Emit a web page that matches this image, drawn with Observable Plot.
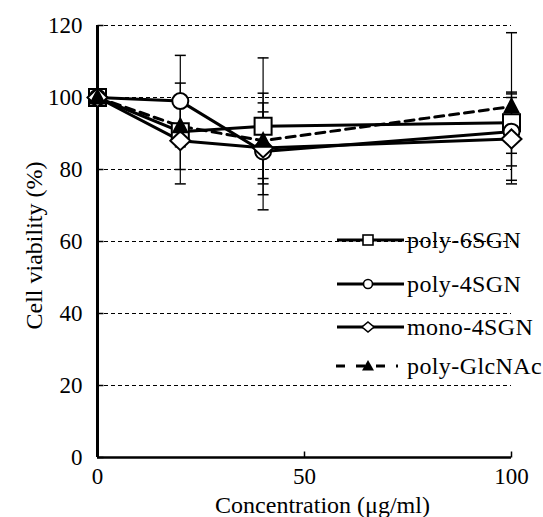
<!DOCTYPE html>
<html><head><meta charset="utf-8">
<script src="https://cdn.jsdelivr.net/npm/d3@7"></script>
<script src="https://cdn.jsdelivr.net/npm/@observablehq/plot@0.6"></script>
<style>
body{margin:0;background:#fff;}
#wrap{position:relative;width:543px;height:517px;}
#wrap svg, #wrap svg text{font-family:"Liberation Serif","Times New Roman",serif !important;}
#legend{position:absolute;left:0;top:0;pointer-events:none;}
</style></head><body>
<div id="wrap"></div>
<script>
// ---- data ----
const concentrations = [0, 20, 40, 100];
const seriesNames = ["poly-6SGN", "poly-4SGN", "mono-4SGN", "poly-GlcNAc"];
const poly6SGN = [100, 90.5, 92, 93];
const poly6SGN_sd = [0, 2, 19, 8.5];
const poly4SGN = [100, 99, 85, 90.5];
const poly4SGN_sd = [0, 12.7, 16.2, 9.5];
const mono4SGN = [100, 88, 86, 88.5];
const mono4SGN_sd = [0, 12, 10, 12.5];
const polyGlcNAc = [100, 92, 88, 97.5];
const polyGlcNAc_sd = [0, 12, 10.5, 20.5];
const yTicks = [0, 20, 40, 60, 80, 100, 120];
const xTicks = [0, 50, 100];
const xLabel = "Concentration (μg/ml)";
const yLabel = "Cell viability (%)";

const values = [poly6SGN, poly4SGN, mono4SGN, polyGlcNAc];
const sds = [poly6SGN_sd, poly4SGN_sd, mono4SGN_sd, polyGlcNAc_sd];
const rows = [];
seriesNames.forEach((name, i) => concentrations.forEach((c, j) =>
  rows.push({series: name, x: c, y: values[i][j], sd: sds[i][j]})));
const errRows = rows.filter(d => d.sd > 0);

// ---- symbols ----
const sym = {
  square: {draw(p){ p.rect(-8.5, -8.5, 17, 17); }},
  circle: {draw(p){ p.moveTo(8, 0); p.arc(0, 0, 8, 0, 2 * Math.PI); }},
  diamond: {draw(p){ p.moveTo(0, -9.5); p.lineTo(10, 0); p.lineTo(0, 9.5); p.lineTo(-10, 0); p.closePath(); }},
  triangle: {draw(p){ p.moveTo(0, -7.5); p.lineTo(7, 6); p.lineTo(-7, 6); p.closePath(); }},
  hcap: {draw(p){ p.moveTo(-5.5, 0); p.lineTo(5.5, 0); }},
  ytick: {draw(p){ p.moveTo(0, 0); p.lineTo(6, 0); }},
  xtick: {draw(p){ p.moveTo(0, 0); p.lineTo(0, -6); }}
};
const styleOf = [
  {symbol: sym.square, fill: "white", dash: null},
  {symbol: sym.circle, fill: "white", dash: null},
  {symbol: sym.diamond, fill: "white", dash: null},
  {symbol: sym.triangle, fill: "black", dash: "9,6"}
];
const FONT = '"Liberation Serif", "Times New Roman", serif';

const marks = [
  Plot.ruleY(yTicks.filter(d => d > 0), {stroke: "#000", strokeWidth: 1, strokeDasharray: "4,3"}),
  Plot.ruleX([0], {stroke: "#000", strokeWidth: 3}),
  Plot.ruleY([0], {stroke: "#000", strokeWidth: 2.5}),
  Plot.dot(yTicks, {x: () => 0, y: d => d, symbol: sym.ytick, stroke: "#000", strokeWidth: 1.5, fill: "none"}),
  Plot.dot(xTicks.filter(d => d > 0), {x: d => d, y: () => 0, symbol: sym.xtick, stroke: "#000", strokeWidth: 1.5, fill: "none"}),
  Plot.axisY(yTicks, {tickSize: 0, tickPadding: 15, fontSize: 23, fontFamily: FONT, label: null}),
  Plot.axisX(xTicks, {tickSize: 0, tickPadding: 10, fontSize: 23, fontFamily: FONT, label: null}),
  Plot.text([xLabel], {text: d => d, frameAnchor: "bottom", lineAnchor: "top", dy: 38, dx: 18, fontSize: 24, fontFamily: FONT, letterSpacing: 0.5}),
  Plot.text([yLabel], {text: d => d, frameAnchor: "left", rotate: -90, dx: -63, dy: 4, fontSize: 24, fontFamily: FONT, textAnchor: "middle", lineAnchor: "middle", letterSpacing: 1}),
  Plot.ruleX(errRows, {x: "x", y1: d => d.y - d.sd, y2: d => d.y + d.sd, stroke: "#000", strokeWidth: 1.2}),
  Plot.dot(errRows, {x: "x", y: d => d.y + d.sd, symbol: sym.hcap, stroke: "#000", strokeWidth: 1.5, fill: "none"}),
  Plot.dot(errRows, {x: "x", y: d => d.y - d.sd, symbol: sym.hcap, stroke: "#000", strokeWidth: 1.5, fill: "none"})
];
seriesNames.forEach((name, i) => {
  marks.push(Plot.line(rows.filter(d => d.series === name), {x: "x", y: "y", stroke: "#000", strokeWidth: 3, strokeDasharray: styleOf[i].dash}));
});
seriesNames.forEach((name, i) => {
  marks.push(Plot.dot(rows.filter(d => d.series === name), {x: "x", y: "y", symbol: styleOf[i].symbol, fill: styleOf[i].fill, stroke: "#000", strokeWidth: 2}));
});

const chart = Plot.plot({
  width: 543, height: 517,
  marginLeft: 97, marginRight: 32, marginTop: 25, marginBottom: 60,
  x: {domain: [0, 100]},
  y: {domain: [0, 120]},
  style: {fontFamily: FONT, fontSize: "23px", background: "white", color: "black"},
  marks
});
const wrap = document.getElementById("wrap");
wrap.appendChild(chart);

// ---- legend (overlay) ----
const legendY = [240, 284, 327, 366];
const lg = d3.select(wrap).append("svg").attr("id", "legend").attr("width", 543).attr("height", 517);
const legSym = [
  g => g.append("rect").attr("x", 363).attr("y", -5).attr("width", 10).attr("height", 10).attr("fill", "white").attr("stroke", "#000").attr("stroke-width", 1.6),
  g => g.append("circle").attr("cx", 368).attr("cy", 0).attr("r", 4.5).attr("fill", "white").attr("stroke", "#000").attr("stroke-width", 1.6),
  g => g.append("path").attr("d", "M368,-5L374,0L368,5L362,0Z").attr("fill", "white").attr("stroke", "#000").attr("stroke-width", 1.6),
  g => g.append("path").attr("d", "M368,-6L374,4.5L362,4.5Z").attr("fill", "#000")
];
seriesNames.forEach((name, i) => {
  const g = lg.append("g").attr("transform", `translate(0,${legendY[i]})`);
  if (i === 3) {
    g.append("line").attr("x1", 336).attr("x2", 398).attr("y1", 0).attr("y2", 0)
      .attr("stroke", "#000").attr("stroke-width", 3).attr("stroke-dasharray", "9,11");
  } else {
    g.append("line").attr("x1", 337).attr("x2", 404).attr("y1", 0).attr("y2", 0)
      .attr("stroke", "#000").attr("stroke-width", 3);
  }
  legSym[i](g);
  g.append("text").attr("x", 407).attr("y", 0).attr("dy", "0.32em")
    .attr("font-family", FONT).attr("font-size", 24).attr("letter-spacing", 0.4).attr("fill", "#000").text(name);
});
</script>
</body></html>
